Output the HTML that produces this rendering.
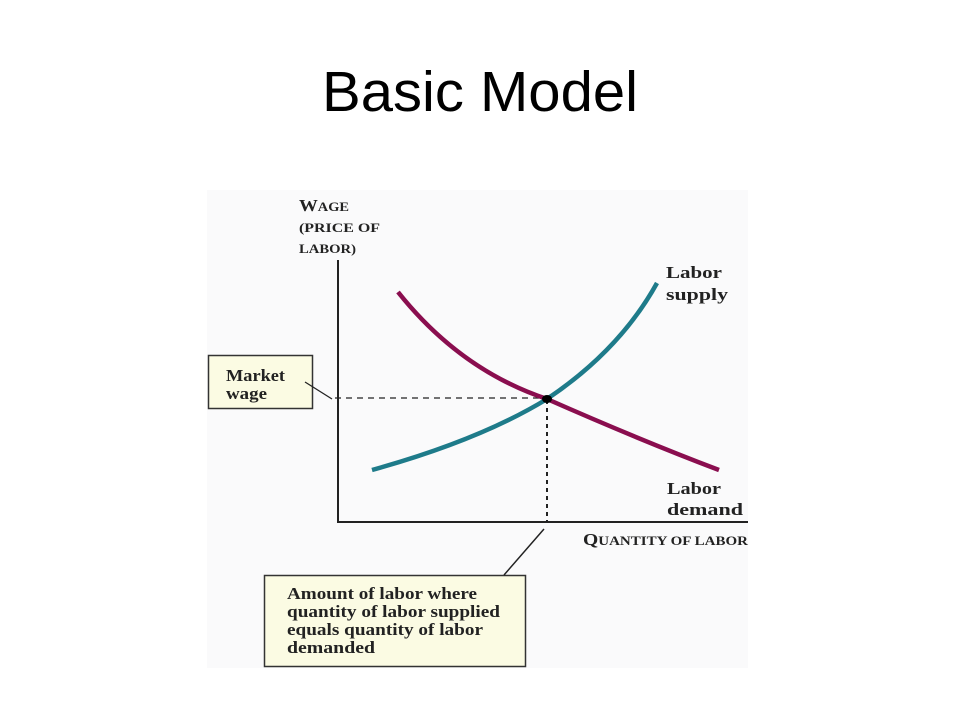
<!DOCTYPE html>
<html><head><meta charset="utf-8"><style>
html,body{margin:0;padding:0;background:#fff;width:960px;height:720px;overflow:hidden}
</style></head><body>
<svg width="960" height="720" viewBox="0 0 960 720" xmlns="http://www.w3.org/2000/svg">
<rect width="960" height="720" fill="#fff"/>
<text x="480" y="111" text-anchor="middle" font-family="Liberation Sans, sans-serif" font-size="57" fill="#000" textLength="316" lengthAdjust="spacingAndGlyphs">Basic Model</text>
<rect x="207" y="190" width="541" height="478" fill="#fafafb"/>
<g font-family="Liberation Serif, serif" font-weight="bold" fill="#222" lengthAdjust="spacingAndGlyphs">
<text x="299" y="211" font-size="17" textLength="50" lengthAdjust="spacingAndGlyphs">W<tspan font-size="13">AGE</tspan></text>
<text x="299" y="232" font-size="13" textLength="81" lengthAdjust="spacingAndGlyphs">(PRICE OF</text>
<text x="299" y="253" font-size="13" textLength="57" lengthAdjust="spacingAndGlyphs">LABOR)</text>
<text x="666" y="278" font-size="17" textLength="56" lengthAdjust="spacingAndGlyphs">Labor</text>
<text x="666" y="300" font-size="17" textLength="62" lengthAdjust="spacingAndGlyphs">supply</text>
<text x="667" y="494" font-size="17" textLength="54" lengthAdjust="spacingAndGlyphs">Labor</text>
<text x="667" y="515" font-size="17" textLength="76" lengthAdjust="spacingAndGlyphs">demand</text>
<text x="583" y="545" font-size="17" textLength="165" lengthAdjust="spacingAndGlyphs">Q<tspan font-size="13">UANTITY OF LABOR</tspan></text>
</g>
<line x1="338" y1="260" x2="338" y2="522" stroke="#222" stroke-width="2"/>
<line x1="337" y1="522" x2="748" y2="522" stroke="#222" stroke-width="2"/>
<line x1="335" y1="398" x2="547" y2="398" stroke="#222" stroke-width="1.3" stroke-dasharray="6,5"/>
<line x1="547" y1="400" x2="547" y2="522" stroke="#222" stroke-width="2" stroke-dasharray="4,4"/>
<path d="M398,292 Q460,370 547,399 Q640,440 719,470" fill="none" stroke="#8a0e4f" stroke-width="4.5"/>
<path d="M372,470 Q480,440 547,399 Q620,350 657,283" fill="none" stroke="#1e7b8a" stroke-width="4.5"/>
<ellipse cx="547" cy="399" rx="5" ry="4" fill="#000"/>
<rect x="208.5" y="355.5" width="104" height="53" fill="#fbfbe3" stroke="#333" stroke-width="1.5"/>
<line x1="305" y1="382" x2="332" y2="399" stroke="#222" stroke-width="1.3"/>
<rect x="264.5" y="575.5" width="261" height="91" fill="#fbfbe3" stroke="#333" stroke-width="1.5"/>
<line x1="504" y1="575" x2="544" y2="529" stroke="#222" stroke-width="1.5"/>
<g font-family="Liberation Serif, serif" font-weight="bold" fill="#222" font-size="17">
<text x="226" y="381" textLength="59" lengthAdjust="spacingAndGlyphs">Market</text>
<text x="226" y="399" textLength="41" lengthAdjust="spacingAndGlyphs">wage</text>
<text x="287" y="599" textLength="190" lengthAdjust="spacingAndGlyphs">Amount of labor where</text>
<text x="287" y="617" textLength="213" lengthAdjust="spacingAndGlyphs">quantity of labor supplied</text>
<text x="287" y="635" textLength="196" lengthAdjust="spacingAndGlyphs">equals quantity of labor</text>
<text x="287" y="653" textLength="88" lengthAdjust="spacingAndGlyphs">demanded</text>
</g>
</svg>
</body></html>
